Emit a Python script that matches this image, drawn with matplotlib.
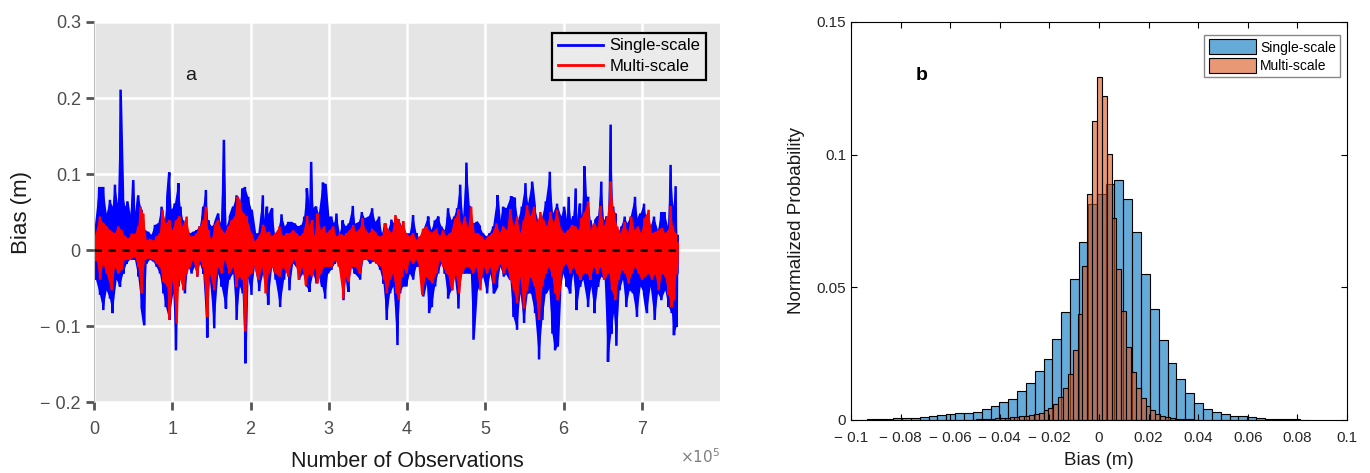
import numpy as np
import matplotlib
matplotlib.use("Agg")
import matplotlib.pyplot as plt
from matplotlib.patches import Patch
from matplotlib.lines import Line2D

plt.rcParams['font.family'] = ['Liberation Sans', 'DejaVu Sans']

# ---- panel a: bias time series (observation index in thousands, bias in m) ----
blue_up_x = [0, 6.8, 11.9, 16.2, 20.4, 23.8, 26.8, 30.6, 34.0, 37.0, 40.0, 42.6, 46.0, 50.2, 53.2, 56.6,
             60.9, 65.1, 69.4, 73.6, 77.9, 82.2, 86.4, 90.7, 93.7, 96.2, 99.2, 103.4, 107.7, 110.7, 114.0,
             118.3, 122.6, 126.8, 131.0, 135.3, 139.6, 143.0, 146.0, 150.3, 154.5, 158.8, 162.2, 166.0,
             169.4, 173.7, 178.0, 182.2, 186.5, 189.5, 192.9, 197.1,
             201.4, 205.6, 209.9, 215.8, 218.3, 221.0, 223.5, 227.7, 231.1, 235.4, 239.6, 243.9, 248.2,
             252.4, 256.7, 260.9, 265.2, 268.6, 272.0, 274.5, 277.5, 280.5, 283.9, 287.3, 292.4, 295.8,
             299.2, 303.4, 306.8, 309.8, 314.1, 317.9, 321.7, 325.6, 330.7, 334.1, 337.9, 342.2, 346.0,
             351.1, 355.4, 359.6, 364.3, 368.1, 371.5, 375.8, 380.0, 385.1, 389.4, 393.7,
             399.3, 403.5, 407.8, 412.1, 416.3, 420.6, 427.0, 431.2, 435.5, 439.8, 444.0, 448.3, 452.5,
             456.8, 460.2, 464.0, 467.9, 471.7, 475.9, 480.2, 484.5, 489.1, 493.0, 497.2, 501.5, 505.7,
             510.0, 515.5, 518.5, 522.8, 527.0, 533.0, 537.7, 541.9, 546.6, 551.3, 554.7, 559.8, 563.2,
             567.5, 571.7, 577.3, 582.4, 586.6, 591.7,
             597.2, 600.6, 604.0, 606.6, 610.0, 612.5, 615.5, 618.5, 621.0, 623.6, 626.6, 629.1, 631.3,
             634.7, 637.7, 640.6, 644.0, 648.3, 651.7, 654.7, 656.8, 660.2, 663.2, 666.2, 669.6, 673.8,
             678.1, 681.5, 685.8, 691.3, 695.1, 698.5, 702.8, 707.1, 711.3, 715.6, 720.7, 724.9, 729.2,
             733.4, 736.8, 740.2, 743.2, 745.3]
blue_up_y = [0.022, 0.083, 0.083, 0.048, 0.066, 0.057, 0.086, 0.061, 0.211, 0.075, 0.057, 0.064, 0.039, 0.092,
             0.039, 0.072, 0.053, 0.026, 0.024, 0.020, 0.033, 0.035, 0.057, 0.039, 0.070, 0.102, 0.053, 0.061,
             0.088, 0.057, 0.039, 0.031, 0.022, 0.024, 0.026, 0.031, 0.057, 0.079, 0.039, 0.031, 0.035, 0.048,
             0.035, 0.145, 0.031, 0.044, 0.057, 0.072, 0.061, 0.081, 0.083, 0.070,
             0.053, 0.022, 0.022, 0.072, 0.031, 0.057, 0.044, 0.055, 0.022, 0.026, 0.047, 0.031, 0.037,
             0.037, 0.035, 0.031, 0.033, 0.044, 0.081, 0.044, 0.116, 0.053, 0.057, 0.048, 0.089, 0.087,
             0.044, 0.044, 0.035, 0.048, 0.022, 0.039, 0.031, 0.035, 0.058, 0.033, 0.035, 0.050, 0.042,
             0.044, 0.055, 0.037, 0.044, 0.022, 0.035, 0.026, 0.040, 0.033, 0.040, 0.031,
             0.022, 0.022, 0.046, 0.022, 0.013, 0.026, 0.044, 0.026, 0.039, 0.044, 0.031, 0.026, 0.055,
             0.039, 0.044, 0.055, 0.086, 0.044, 0.115, 0.058, 0.035, 0.037, 0.031, 0.022, 0.018, 0.022,
             0.031, 0.072, 0.035, 0.057, 0.055, 0.071, 0.069, 0.039, 0.057, 0.088, 0.061, 0.090, 0.057,
             0.039, 0.039, 0.064, 0.103, 0.048, 0.061,
             0.044, 0.057, 0.031, 0.070, 0.035, 0.044, 0.081, 0.031, 0.061, 0.044, 0.110, 0.053, 0.070,
             0.039, 0.031, 0.039, 0.044, 0.090, 0.039, 0.044, 0.031, 0.165, 0.057, 0.048, 0.022, 0.031,
             0.044, 0.035, 0.044, 0.070, 0.039, 0.048, 0.061, 0.035, 0.031, 0.044, 0.026, 0.050, 0.050,
             0.031, 0.112, 0.057, 0.084, 0.020]

blue_lo_x = [0, 2.6, 7.7, 11.9, 16.2, 20.4, 23.8, 29.0, 33.2, 37.5, 41.7, 46.0, 52.4, 56.6, 60.9, 64.3,
             67.3, 71.5, 75.8, 80.0, 84.3, 88.6, 92.0, 96.2, 101.3, 104.7, 107.7, 112.0, 116.2, 120.5,
             124.7, 129.0, 132.0, 135.4, 139.6, 144.7, 148.1, 153.7, 158.8, 163.1, 168.6, 172.8, 178.0,
             182.2, 186.5, 189.9, 193.3, 196.0,
             201.3, 205.6, 211.1, 216.2, 222.6, 227.7, 232.0, 237.9, 243.0, 247.3, 249.8, 254.5, 258.8,
             262.2, 267.3, 271.6, 275.4, 280.1, 284.3, 288.6, 291.6, 295.4, 299.2, 303.5, 307.7, 312.0,
             316.3, 318.8, 322.6, 325.2, 329.0, 333.3, 340.1, 344.3, 348.6, 352.9, 357.1, 361.4, 365.6,
             369.9, 374.1, 378.4, 382.7, 387.8, 391.2, 395.0,
             399.3, 403.6, 407.8, 412.1, 416.3, 420.6, 424.9, 428.3, 431.7, 435.9, 439.8, 444.0, 448.3,
             452.5, 456.8, 461.0, 465.7, 470.0, 474.2, 478.5, 481.5, 484.9, 488.7, 493.0, 497.2, 502.3,
             506.6, 510.8, 515.1, 519.4, 523.6, 527.9, 532.1, 536.0, 540.6, 544.9, 549.6, 554.3, 558.5,
             563.6, 568.7, 573.0, 577.3, 581.5, 585.8, 589.2, 592.6,
             595.5, 599.8, 604.0, 608.3, 612.5, 616.8, 621.1, 625.3, 631.3, 635.5, 639.8, 644.0, 648.3,
             652.6, 656.8, 661.1, 664.5, 667.5, 671.7, 676.0, 680.2, 684.5, 688.7, 693.8, 698.5, 702.8,
             706.6, 711.3, 716.4, 720.7, 724.9, 730.0, 734.3, 738.5, 741.1, 744.5, 745.3]
blue_lo_y = [-0.026, -0.039, -0.059, -0.079, -0.053, -0.064, -0.083, -0.039, -0.048, -0.031, -0.018, -0.013,
             -0.013, -0.035, -0.075, -0.099, -0.018, -0.013, -0.015, -0.022, -0.031, -0.057, -0.075, -0.092,
             -0.057, -0.132, -0.048, -0.031, -0.057, -0.022, -0.031, -0.022, -0.035, -0.018, -0.031, -0.115,
             -0.039, -0.103, -0.031, -0.048, -0.077, -0.039, -0.031, -0.092, -0.048, -0.057, -0.149, -0.031,
             -0.059, -0.022, -0.054, -0.031, -0.072, -0.022, -0.039, -0.075, -0.039, -0.018, -0.053, -0.018,
             -0.022, -0.039, -0.031, -0.048, -0.055, -0.031, -0.044, -0.031, -0.048, -0.064, -0.031, -0.026,
             -0.018, -0.013, -0.018, -0.066, -0.031, -0.055, -0.022, -0.031, -0.039, -0.013, -0.013, -0.018,
             -0.015, -0.018, -0.026, -0.044, -0.092, -0.057, -0.048, -0.125, -0.057, -0.048,
             -0.048, -0.031, -0.039, -0.022, -0.022, -0.061, -0.039, -0.083, -0.075, -0.048, -0.031, -0.018,
             -0.031, -0.064, -0.053, -0.035, -0.077, -0.031, -0.031, -0.031, -0.031, -0.118, -0.057, -0.048,
             -0.035, -0.057, -0.031, -0.057, -0.048, -0.022, -0.035, -0.031, -0.039, -0.088, -0.105, -0.057,
             -0.096, -0.057, -0.057, -0.083, -0.144, -0.092, -0.057, -0.048, -0.110, -0.132, -0.127,
             -0.057, -0.031, -0.048, -0.057, -0.031, -0.079, -0.048, -0.039, -0.075, -0.048, -0.083, -0.048,
             -0.035, -0.039, -0.147, -0.110, -0.083, -0.126, -0.053, -0.039, -0.075, -0.053, -0.057, -0.088,
             -0.048, -0.057, -0.083, -0.048, -0.092, -0.057, -0.066, -0.053, -0.075, -0.083, -0.112, -0.101,
             -0.030]

red_up_x = [0, 7.7, 11.9, 16.2, 20.4, 26.8, 31.1, 35.3, 39.6, 43.9, 48.1, 52.4, 56.6, 59.6, 63.0, 67.3,
            71.5, 75.8, 80.0, 84.3, 87.7, 92.0, 96.2, 100.5, 104.7, 109.0, 113.2, 118.4, 122.6, 126.9,
            131.1, 135.4, 139.6, 143.0, 146.0, 150.3, 154.5, 158.8, 163.1, 167.3, 171.6, 175.8, 180.1,
            183.5, 186.5, 190.7, 195.0,
            201.3, 205.6, 212.0, 215.8, 219.2, 223.5, 226.9, 232.0, 237.1, 241.8, 246.0, 250.3, 254.5,
            258.8, 263.0, 267.3, 272.4, 275.8, 278.8, 282.2, 285.6, 289.9, 294.1, 297.1, 301.4, 305.6,
            309.9, 314.1, 318.4, 322.6, 326.9, 331.2, 335.4, 339.7, 343.1, 346.9, 351.2, 355.4, 359.7,
            363.9, 368.2, 372.4, 376.7, 380.9, 385.2, 389.5, 393.7,
            395.1, 399.3, 403.6, 407.8, 412.1, 416.3, 420.6, 424.9, 429.1, 433.4, 437.6, 441.9, 446.1,
            450.4, 454.7, 458.9, 462.3, 465.7, 469.6, 473.8, 478.1, 481.9, 486.6, 490.8, 495.1, 499.3,
            503.6, 509.1, 514.3, 518.5, 522.8, 527.9, 532.1, 536.4, 540.6, 544.9, 549.2, 553.4, 557.7,
            562.4, 566.2, 570.4, 574.7, 579.0, 583.2, 587.5, 591.7,
            597.2, 601.5, 605.7, 610.8, 615.1, 619.4, 622.8, 627.0, 631.3, 634.7, 638.9, 643.2, 647.4,
            651.7, 656.0, 660.2, 664.5, 668.7, 673.0, 678.1, 682.4, 686.6, 690.9, 695.1, 699.4, 703.6,
            708.7, 713.0, 717.3, 721.5, 725.8, 730.0, 734.3, 736.8, 739.8, 742.8, 745.3]
red_up_y = [0.013, 0.044, 0.035, 0.031, 0.026, 0.022, 0.031, 0.026, 0.018, 0.015, 0.020, 0.020, 0.031,
            0.057, 0.048, 0.013, 0.013, 0.011, 0.018, 0.022, 0.053, 0.035, 0.039, 0.026, 0.039, 0.044,
            0.031, 0.044, 0.018, 0.018, 0.022, 0.031, 0.039, 0.057, 0.026, 0.013, 0.031, 0.039, 0.026,
            0.022, 0.031, 0.039, 0.044, 0.070, 0.061, 0.048, 0.044,
            0.022, 0.011, 0.020, 0.033, 0.022, 0.024, 0.018, 0.022, 0.031, 0.018, 0.022, 0.022, 0.026,
            0.022, 0.018, 0.022, 0.045, 0.022, 0.039, 0.018, 0.048, 0.026, 0.031, 0.022, 0.026, 0.031,
            0.018, 0.020, 0.018, 0.022, 0.026, 0.033, 0.022, 0.026, 0.042, 0.026, 0.022, 0.026, 0.022,
            0.018, 0.018, 0.035, 0.026, 0.022, 0.046, 0.039, 0.028,
            0.038, 0.022, 0.018, 0.022, 0.013, 0.018, 0.028, 0.031, 0.024, 0.022, 0.026, 0.018, 0.026,
            0.018, 0.022, 0.026, 0.042, 0.054, 0.031, 0.044, 0.029, 0.057, 0.022, 0.022, 0.018, 0.013,
            0.018, 0.022, 0.035, 0.022, 0.031, 0.026, 0.054, 0.031, 0.044, 0.022, 0.039, 0.059, 0.044,
            0.057, 0.035, 0.050, 0.039, 0.031, 0.050, 0.035, 0.053,
            0.026, 0.022, 0.026, 0.033, 0.031, 0.026, 0.042, 0.050, 0.064, 0.026, 0.035, 0.024, 0.058,
            0.031, 0.044, 0.090, 0.050, 0.031, 0.022, 0.037, 0.022, 0.044, 0.026, 0.031, 0.022, 0.042,
            0.053, 0.022, 0.024, 0.026, 0.029, 0.022, 0.026, 0.058, 0.031, 0.022, 0.010]

red_lo_x = [0, 3.4, 7.7, 11.9, 16.2, 22.6, 26.8, 31.1, 35.3, 39.6, 46.0, 52.4, 56.6, 60.9, 65.1, 69.4,
            75.8, 80.0, 84.3, 88.6, 93.7, 96.2, 100.5, 105.6, 109.0, 114.1, 118.4, 122.6, 126.9, 132.0,
            135.4, 139.6, 144.7, 148.1, 153.7, 158.8, 163.1, 167.3, 172.8, 178.0, 182.2, 186.5, 189.9,
            193.3, 197.1,
            201.3, 205.6, 210.7, 214.9, 219.2, 223.5, 227.7, 232.0, 237.5, 241.8, 248.2, 252.4, 256.7,
            261.8, 266.0, 270.7, 275.0, 278.8, 283.1, 285.6, 289.9, 294.1, 298.4, 303.5, 308.6, 312.8,
            318.4, 322.6, 325.6, 329.9, 334.1, 339.7, 343.9, 348.6, 354.6, 361.0, 367.3, 370.7, 374.1,
            378.4, 382.2, 386.5, 389.5, 393.7,
            395.1, 399.3, 403.6, 407.8, 412.1, 416.3, 419.7, 424.0, 428.3, 432.5, 437.6, 441.9, 446.1,
            450.4, 454.7, 458.1, 462.3, 466.6, 470.8, 475.1, 479.3, 484.5, 488.7, 493.8, 498.1, 502.3,
            506.6, 510.8, 515.1, 519.4, 523.6, 527.9, 532.1, 536.4, 540.6, 544.9, 549.2, 553.4, 557.7,
            563.2, 568.7, 573.0, 577.3, 581.5, 585.8, 589.2, 592.6,
            595.5, 599.5, 603.8, 608.9, 613.1, 617.4, 621.7, 625.9, 630.2, 634.4, 638.7, 643.2, 647.4,
            651.7, 655.1, 658.5, 661.9, 666.2, 670.4, 674.7, 678.9, 683.2, 687.5, 691.7, 696.0, 700.2,
            704.5, 708.7, 713.0, 717.3, 721.5, 725.8, 730.0, 734.3, 737.7, 741.1, 744.5, 745.3]
red_lo_y = [-0.013, -0.013, -0.039, -0.018, -0.031, -0.053, -0.022, -0.031, -0.026, -0.013, -0.013, -0.009,
            -0.022, -0.057, -0.013, -0.011, -0.013, -0.018, -0.022, -0.042, -0.048, -0.092, -0.039, -0.096,
            -0.035, -0.053, -0.031, -0.022, -0.013, -0.035, -0.013, -0.022, -0.088, -0.031, -0.053, -0.022,
            -0.031, -0.013, -0.031, -0.022, -0.048, -0.031, -0.039, -0.107, -0.035,
            -0.031, -0.018, -0.039, -0.022, -0.057, -0.031, -0.022, -0.031, -0.035, -0.022, -0.035, -0.018,
            -0.013, -0.039, -0.022, -0.046, -0.031, -0.035, -0.022, -0.044, -0.031, -0.022, -0.022, -0.022,
            -0.013, -0.022, -0.064, -0.031, -0.042, -0.022, -0.022, -0.031, -0.013, -0.013, -0.013, -0.018,
            -0.022, -0.039, -0.057, -0.039, -0.031, -0.057, -0.066, -0.035,
            -0.022, -0.031, -0.013, -0.018, -0.013, -0.022, -0.059, -0.035, -0.039, -0.044, -0.031, -0.013,
            -0.022, -0.031, -0.035, -0.053, -0.031, -0.057, -0.031, -0.022, -0.022, -0.031, -0.022, -0.053,
            -0.022, -0.031, -0.022, -0.044, -0.026, -0.018, -0.031, -0.022, -0.039, -0.053, -0.070, -0.035,
            -0.077, -0.053, -0.035, -0.048, -0.092, -0.048, -0.031, -0.022, -0.035, -0.057, -0.066,
            -0.048, -0.022, -0.018, -0.031, -0.022, -0.031, -0.039, -0.031, -0.031, -0.039, -0.022, -0.031,
            -0.022, -0.039, -0.031, -0.031, -0.053, -0.066, -0.039, -0.026, -0.031, -0.044, -0.031, -0.022,
            -0.031, -0.039, -0.035, -0.031, -0.039, -0.031, -0.053, -0.031, -0.035, -0.059, -0.075, -0.066,
            -0.031, -0.020]

# ---- panel b: normalized histograms ----
blue_bin_start, blue_bin_width = -0.0973, 0.00357
blue_prob = [0.0001, 0.0003, 0.0004, 0.0005, 0.0006, 0.0008, 0.0009, 0.0011, 0.0014, 0.0018, 0.0021,
             0.0025, 0.0028, 0.0031, 0.0040, 0.0053, 0.0068, 0.0080, 0.0109, 0.0141, 0.0183, 0.0231,
             0.0307, 0.0408, 0.0533, 0.0672, 0.0814, 0.0851, 0.0888, 0.0906, 0.0831, 0.0708, 0.0550,
             0.0418, 0.0303, 0.0216, 0.0153, 0.0103, 0.0065, 0.0043, 0.0030, 0.0021, 0.0016, 0.0014,
             0.0010, 0.0008, 0.0005, 0.0004, 0.0003, 0.0002, 0.0001]
orange_bin_start, orange_bin_width = -0.05176, 0.00196
orange_prob = [0.0001, 0.0002, 0.0003, 0.0004, 0.0005, 0.0006, 0.0008, 0.0009, 0.0010, 0.0011, 0.0014,
               0.0015, 0.0019, 0.0023, 0.0026, 0.0036, 0.0045, 0.0060, 0.0087, 0.0120, 0.0174, 0.0265,
               0.0400, 0.0580, 0.0850, 0.1127, 0.1292, 0.1221, 0.1004, 0.0760, 0.0568, 0.0410, 0.0274,
               0.0182, 0.0121, 0.0081, 0.0054, 0.0036, 0.0022, 0.0015, 0.0011, 0.0008, 0.0005, 0.0004,
               0.0003, 0.0002, 0.0001]

fig = plt.figure(figsize=(13.7, 4.73), dpi=100)

# ================= panel a =================
ax = fig.add_axes([0.0686, 0.150, 0.457, 0.8035])
ax.set_facecolor('#E5E5E5')
ax.set_axisbelow(True)
ax.grid(True, color='white', lw=1.8)


def draw_series(xu, yu, xl, yl, color, lw):
    xu = np.asarray(xu) * 1e3
    xl = np.asarray(xl) * 1e3
    yu = np.asarray(yu)
    yl = np.asarray(yl)
    ax.fill(np.r_[xu, xl[::-1]], np.r_[yu, yl[::-1]], color=color, lw=0, zorder=2)
    allx = np.r_[xu, xl]
    ally = np.r_[yu, yl]
    order = np.argsort(allx, kind='stable')
    ax.plot(allx[order], ally[order], color=color, lw=lw, zorder=2, solid_joinstyle='miter')


draw_series(blue_up_x, blue_up_y, blue_lo_x, blue_lo_y, '#0000FF', 1.8)
draw_series(red_up_x, red_up_y, red_lo_x, red_lo_y, '#FF0000', 1.8)
ax.hlines(0, blue_up_x[0] * 1e3, blue_up_x[-1] * 1e3, colors='black', linestyles=(0, (3, 2.6)),
          lw=1.8, zorder=3)

ax.set_xlim(0, 8e5)
ax.set_ylim(-0.2, 0.3)
ax.set_xticks(np.arange(0, 8) * 1e5)
ax.set_xticklabels([str(i) for i in range(8)])
yt = [-0.2, -0.1, 0, 0.1, 0.2, 0.3]
ax.set_yticks(yt)
ax.set_yticklabels(['\u2212 0.2', '\u2212 0.1', '0', '0.1', '0.2', '0.3'])
for s in ['top', 'right', 'bottom']:
    ax.spines[s].set_visible(False)
ax.spines['left'].set_color('#BDBDBD')
ax.tick_params(axis='both', colors='#555555', labelcolor='#4D4D4D', labelsize=13,
               length=6, width=2, direction='out')
ax.tick_params(axis='x', pad=8)
ax.set_xlabel('Number of Observations', fontsize=15.5, color='#1A1A1A', labelpad=9)
ax.set_ylabel('Bias (m)', fontsize=16, color='#1A1A1A', labelpad=6)
ax.text(1.0, -0.12, r'$\times10^5$', transform=ax.transAxes, ha='right', va='top',
        fontsize=11, color='#7F7F7F')
ax.text(1.23e5, 0.23, 'a', fontsize=14, ha='center', va='center', color='#1A1A1A')

h = [Line2D([], [], color='#0000FF', lw=2), Line2D([], [], color='#FF0000', lw=2)]
leg = ax.legend(h, ['Single-scale', 'Multi-scale'], loc='upper right', bbox_to_anchor=(0.978, 0.972),
                borderaxespad=0, fontsize=12, handlelength=2.7, handletextpad=0.4,
                fancybox=False, framealpha=1, borderpad=0.35, labelspacing=0.35)
leg.get_frame().set_edgecolor('black')
leg.get_frame().set_linewidth(1.6)
leg.get_frame().set_facecolor('#EBEBEB')

# ================= panel b =================
bx = fig.add_axes([0.6212, 0.1121, 0.3620, 0.8414])
blue_face = (0.0, 0.447, 0.741, 0.6)
orange_face = (0.85, 0.325, 0.098, 0.6)
blue_edges = blue_bin_start + blue_bin_width * np.arange(len(blue_prob))
orange_edges = orange_bin_start + orange_bin_width * np.arange(len(orange_prob))
bx.bar(blue_edges, blue_prob, width=blue_bin_width, align='edge', facecolor=blue_face,
       edgecolor='black', linewidth=0.8)
bx.bar(orange_edges, orange_prob, width=orange_bin_width, align='edge', facecolor=orange_face,
       edgecolor='black', linewidth=0.8)
bx.set_xlim(-0.1, 0.1)
bx.set_ylim(0, 0.15)
xt = np.round(np.arange(-0.1, 0.1001, 0.02), 2)
bx.set_xticks(xt)
bx.set_xticklabels([('\u2212 %g' % abs(v)) if v < 0 else ('%g' % v) for v in xt])
bx.set_yticks([0, 0.05, 0.1, 0.15])
bx.set_yticklabels(['0', '0.05', '0.1', '0.15'])
bx.tick_params(axis='both', direction='in', top=True, right=True, length=4, width=0.8,
               labelsize=11, labelcolor='#262626')
bx.tick_params(axis='x', pad=8)
for s in bx.spines.values():
    s.set_linewidth(0.8)
bx.set_xlabel('Bias (m)', fontsize=13.5, color='#1A1A1A', labelpad=5)
bx.set_ylabel('Normalized Probability', fontsize=13.5, color='#1A1A1A', labelpad=8)
bx.text(-0.0715, 0.1297, 'b', fontsize=14, fontweight='bold', ha='center', va='center')
hp = [Patch(facecolor=blue_face, edgecolor='black', lw=0.8),
      Patch(facecolor=orange_face, edgecolor='black', lw=0.8)]
leg2 = bx.legend(hp, ['Single-scale', 'Multi-scale'], loc='upper right', bbox_to_anchor=(0.986, 0.967),
                 borderaxespad=0, fontsize=10, handlelength=3.4, handleheight=1.3, handletextpad=0.3,
                 fancybox=False, framealpha=1, borderpad=0.3, labelspacing=0.25)
leg2.get_frame().set_edgecolor('#888888')
leg2.get_frame().set_linewidth(1.0)

fig.savefig('out.png', dpi=100)
